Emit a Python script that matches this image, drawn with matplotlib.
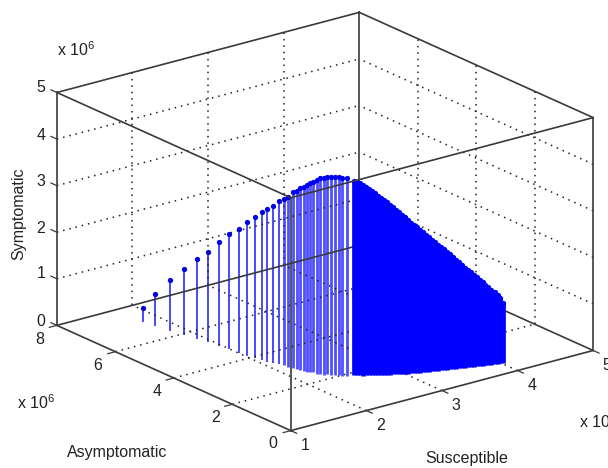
import matplotlib
matplotlib.use('Agg')
import matplotlib.pyplot as plt

# trajectory: S in 1e7, A in 1e6, Y in 1e6
susceptible = [1.78, 1.80, 1.84, 1.87, 1.91, 1.94, 1.96, 1.99, 2.00, 2.01,
               2.04, 2.06, 2.07, 2.10, 2.13, 2.15, 2.16, 2.17, 2.18, 2.19,
               2.21, 2.23, 2.24, 2.26, 2.27, 2.29, 2.31, 2.34, 2.36, 2.39,
               2.42, 2.45, 2.49, 2.55, 2.57, 2.60, 2.62, 2.65, 2.67, 2.70,
               2.73, 2.75, 2.78, 2.81, 2.84, 2.86, 2.89, 2.92, 2.95, 2.97,
               3.00, 3.03, 3.06, 3.09, 3.12, 3.15, 3.18, 3.21, 3.24, 3.27,
               3.30, 3.33, 3.37, 3.40, 3.43, 3.46, 3.49, 3.52, 3.55, 3.58,
               3.61, 3.65, 3.68, 3.71, 3.74, 3.77, 3.80, 3.83, 3.86, 3.89,
               3.93, 3.96, 3.99, 4.02]
asymptomatic = [7.07, 6.72, 6.29, 5.91, 5.55, 5.27, 4.95, 4.67, 4.35, 4.10,
                3.91, 3.72, 3.59, 3.46, 3.31, 3.20, 3.10, 2.94, 2.85, 2.76,
                2.69, 2.62, 2.56, 2.50, 2.40, 2.34, 2.26, 2.23, 2.15, 2.08,
                2.03, 1.98, 1.92, 1.84, 1.80, 1.76, 1.72, 1.68, 1.65, 1.61,
                1.58, 1.55, 1.52, 1.49, 1.46, 1.43, 1.40, 1.36, 1.33, 1.30,
                1.27, 1.24, 1.21, 1.19, 1.17, 1.14, 1.12, 1.09, 1.07, 1.05,
                1.02, 1.00, 0.98, 0.95, 0.93, 0.90, 0.88, 0.86, 0.84, 0.82,
                0.80, 0.78, 0.76, 0.74, 0.72, 0.70, 0.68, 0.66, 0.64, 0.62,
                0.60, 0.58, 0.56, 0.54]
symptomatic = [0.29, 0.70, 1.09, 1.42, 1.72, 1.95, 2.23, 2.47, 2.68, 2.88,
               3.03, 3.18, 3.29, 3.38, 3.50, 3.58, 3.65, 3.78, 3.84, 3.91,
               3.96, 4.01, 4.05, 4.10, 4.16, 4.20, 4.23, 4.23, 4.26, 4.27,
               4.27, 4.25, 4.23, 4.17, 4.15, 4.13, 4.09, 4.05, 4.01, 3.96,
               3.91, 3.85, 3.80, 3.75, 3.70, 3.65, 3.59, 3.53, 3.47, 3.42,
               3.36, 3.30, 3.24, 3.18, 3.13, 3.07, 3.01, 2.95, 2.89, 2.83,
               2.77, 2.71, 2.65, 2.59, 2.53, 2.47, 2.41, 2.34, 2.28, 2.22,
               2.15, 2.09, 2.03, 1.97, 1.91, 1.85, 1.79, 1.73, 1.67, 1.61,
               1.54, 1.48, 1.41, 1.29]
thin_count = 15
sparse_count = 33

s_ticks = [1, 2, 3, 4, 5]
a_ticks = [0, 2, 4, 6, 8]
z_ticks = [0, 1, 2, 3, 4, 5]

W, H = 608, 468
EDGE = '#3a3a3a'
TEXT = '#222222'

plt.rcParams['font.family'] = ['Liberation Sans', 'DejaVu Sans']
plt.rcParams['mathtext.default'] = 'regular'

fig = plt.figure(figsize=(W / 100, H / 100), dpi=100)
side = 578
ax = fig.add_axes([28.2 / W, -50.3 / H, side / W, side / H], projection='3d', proj_type='ortho',
                  computed_zorder=False)
ax.view_init(elev=20.2, azim=-127.5)
ax.set_box_aspect((381, 384, 248))
ax.set_xlim(1, 5)
ax.set_ylim(0, 8)
ax.set_zlim(0, 5)
ax.set_axis_off()
ax.patch.set_alpha(0)

grid_style = dict(color='#222222', lw=1.1, ls=(0, (1, 3.2)), zorder=3)
for s in s_ticks[1:-1]:
    ax.plot([s, s], [8, 8], [0, 5], **grid_style)
    ax.plot([s, s], [0, 8], [0, 0], **grid_style)
for a in a_ticks[1:-1]:
    ax.plot([5, 5], [a, a], [0, 5], **grid_style)
    ax.plot([1, 5], [a, a], [0, 0], **grid_style)
for z in z_ticks[1:-1]:
    ax.plot([1, 5], [8, 8], [z, z], **grid_style)
    ax.plot([5, 5], [0, 8], [z, z], **grid_style)

# back edges sit over the thin stems but behind the solid wall
back_edges = [([1, 5], [8, 8], [0, 0]), ([5, 5], [0, 8], [0, 0]), ([5, 5], [8, 8], [0, 5])]
for xs, ys, zs in back_edges:
    ax.plot(xs, ys, zs, color=EDGE, lw=1.2, zorder=3)

for i in range(len(symptomatic)):
    s, a, y = susceptible[i], asymptomatic[i], symptomatic[i]
    if i < thin_count:
        ax.plot([s, s], [a, a], [0, y], color='#4a4aff', lw=1.4, solid_capstyle='butt', zorder=2)
        ax.plot([s], [a], [y], 'o', color='#0000e6', ms=3.8, mew=0, zorder=2)
    elif i < sparse_count:
        ax.plot([s, s], [a, a], [0, y], color='#4f4fff', lw=2.0, solid_capstyle='butt', zorder=2)
        ax.plot([s], [a], [y], 'o', color='#0000f0', ms=3.8, mew=0, zorder=2)
    else:
        ax.plot([s, s], [a, a], [0, y], color='#0000ff', lw=3.4, solid_capstyle='butt', zorder=4)
        ax.plot([s], [a], [y], 'o', color='#0000ff', ms=3.8, mew=0, zorder=4)

front_edges = [([1, 5], [0, 0], [0, 0]), ([1, 1], [0, 8], [0, 0]), ([1, 1], [0, 0], [0, 5]),
               ([1, 1], [8, 8], [0, 5]), ([5, 5], [0, 0], [0, 5]), ([1, 1], [0, 8], [5, 5]),
               ([1, 5], [0, 0], [5, 5]), ([1, 5], [8, 8], [5, 5]), ([5, 5], [0, 8], [5, 5])]
for xs, ys, zs in front_edges:
    ax.plot(xs, ys, zs, color=EDGE, lw=1.2, zorder=5)

for z in z_ticks:
    ax.plot([1, 1], [8, 8.2], [z, z], color=EDGE, lw=0.9, zorder=5)
for a in a_ticks:
    ax.plot([1, 0.9], [a, a], [0, 0], color=EDGE, lw=0.9, zorder=5)
for s in s_ticks:
    ax.plot([s, s], [0, -0.2], [0, 0], color=EDGE, lw=0.9, zorder=5)


def label(x, y, txt, size=11.5, **kw):
    fig.text(x / W, 1 - y / H, txt, fontsize=size, color=TEXT, ha=kw.pop('ha', 'center'), va='center', **kw)


z_label_y = [321, 273, 228, 182, 135, 88]
a_label_xy = [(273, 443), (216, 418), (157, 392), (98, 365), (40, 339)]
s_label_xy = [(305, 446), (381, 426), (456, 406), (532, 386), (607, 365)]
for z, y in zip(z_ticks, z_label_y):
    label(41, y, str(z))
for a, (x, y) in zip(a_ticks, a_label_xy):
    label(x, y, str(a))
for s, (x, y) in zip(s_ticks, s_label_xy):
    label(x, y, str(s))

label(57, 50, r'x 10$^{6}$', ha='left')
label(17, 403, r'x 10$^{6}$', ha='left')
label(579, 422, r'x 10$^{7}$', ha='left')
label(117, 452, 'Asymptomatic')
label(467, 458, 'Susceptible')
label(19, 214, 'Symptomatic', size=11.5, rotation=90)

fig.savefig('out.png', dpi=100)
